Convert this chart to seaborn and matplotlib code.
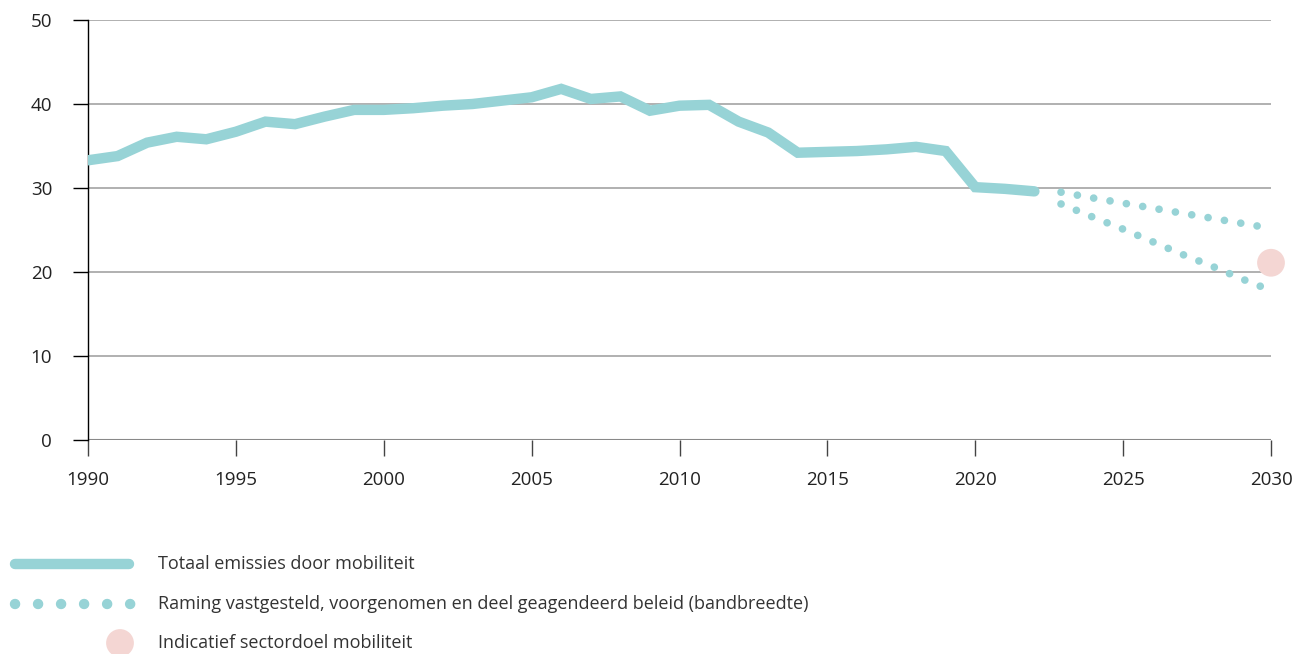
import numpy as np
import pandas as pd
import matplotlib.pyplot as plt
import seaborn as sns

# ==========================
# Data
# ==========================

years = list(range(1990, 2023))
emissions = [
    33.3, 33.8, 35.4, 36.1, 35.8, 36.7, 37.9, 37.6, 38.5, 39.3,
    39.3, 39.5, 39.8, 40.0, 40.4, 40.8, 41.8, 40.6, 40.9, 39.2,
    39.8, 39.9, 37.9, 36.6, 34.2, 34.3, 34.4, 34.6, 34.9, 34.4,
    30.1, 29.9, 29.6,
]

proj_years = [2022.9, 2024, 2025, 2026, 2027, 2028, 2029, 2030]
proj_high = [29.5, 28.8, 28.2, 27.6, 27.0, 26.4, 25.8, 25.2]
proj_low = [28.1, 26.5, 25.1, 23.6, 22.1, 20.7, 19.2, 17.8]

target_year = [2030]
target_value = [21.1]

y_ticks = [0, 10, 20, 30, 40, 50]
x_ticks = [1990, 1995, 2000, 2005, 2010, 2015, 2020, 2025, 2030]

legend_labels = [
    "Totaal emissies door mobiliteit",
    "Raming vastgesteld, voorgenomen en deel geagendeerd beleid (bandbreedte)",
    "Indicatief sectordoel mobiliteit",
]

TEAL = "#97d3d6"
PINK = "#f4d6d3"
TEXT = "#222222"

df = pd.DataFrame({"jaar": years, "emissie": emissions})
df_proj = pd.DataFrame({
    "jaar": proj_years * 2,
    "emissie": proj_high + proj_low,
    "band": ["hoog"] * len(proj_years) + ["laag"] * len(proj_years),
})

# ==========================
# Style
# ==========================

sns.set_style("white")
plt.rcParams["font.family"] = ["Open Sans", "DejaVu Sans"]

fig = plt.figure(figsize=(12.96, 6.54), dpi=100)
ax = fig.add_axes([88 / 1296, 1 - 440 / 654, (1271 - 88) / 1296, 420 / 654])

# --------------------------
# Grid
# --------------------------

for v in y_ticks[1:]:
    ax.axhline(v, color="#aaaaaa", lw=1.3, zorder=0)
ax.axhline(0, color="#888888", lw=1.5, zorder=0)

# --------------------------
# Lines
# --------------------------

sns.lineplot(
    data=df, x="jaar", y="emissie", ax=ax,
    color=TEAL, lw=7.5,
    solid_capstyle="round", solid_joinstyle="miter",
    zorder=3,
)

for band in ["hoog", "laag"]:
    sns.lineplot(
        data=df_proj[df_proj["band"] == band], x="jaar", y="emissie", ax=ax,
        color=TEAL, lw=5.5,
        linestyle=(0, (0.01, 2.16)), dash_capstyle="round",
        zorder=3,
    )

ax.scatter(target_year, target_value, s=400, color=PINK, zorder=4,
           edgecolors="none", clip_on=False)

# --------------------------
# Axes
# --------------------------

ax.set_xlim(1990, 2030)
ax.set_ylim(0, 50)
ax.set_xticks(x_ticks)
ax.set_yticks(y_ticks)
ax.set_xlabel("")
ax.set_ylabel("")

for s in ["top", "right", "bottom"]:
    ax.spines[s].set_visible(False)
ax.spines["left"].set_color("black")
ax.spines["left"].set_linewidth(1.0)

ax.tick_params(axis="y", length=10.8, width=1.0, color="black",
               pad=15, labelsize=13.5, labelcolor=TEXT, left=True)
ax.tick_params(axis="x", length=11.5, width=1.0, color="#444444",
               pad=11, labelsize=13.5, labelcolor=TEXT, bottom=True)

# ==========================
# Legend
# ==========================

leg = fig.add_axes([0, 0, 1, 1], facecolor="none")
leg.set_xlim(0, 1296)
leg.set_ylim(654, 0)
leg.axis("off")

leg.plot([15, 129], [564, 564], color=TEAL, lw=7.5, solid_capstyle="round")
leg.plot([15, 133], [604, 604], color=TEAL, lw=7.5,
         linestyle=(0, (0.01, 2.2)), dash_capstyle="round")
leg.scatter([120], [643], s=400, color=PINK, edgecolors="none", clip_on=False)

for y, label in zip([564, 604, 643], legend_labels):
    leg.text(158, y, label, fontsize=13, color="#333333", va="center")

fig.savefig("out.png", dpi=100)
